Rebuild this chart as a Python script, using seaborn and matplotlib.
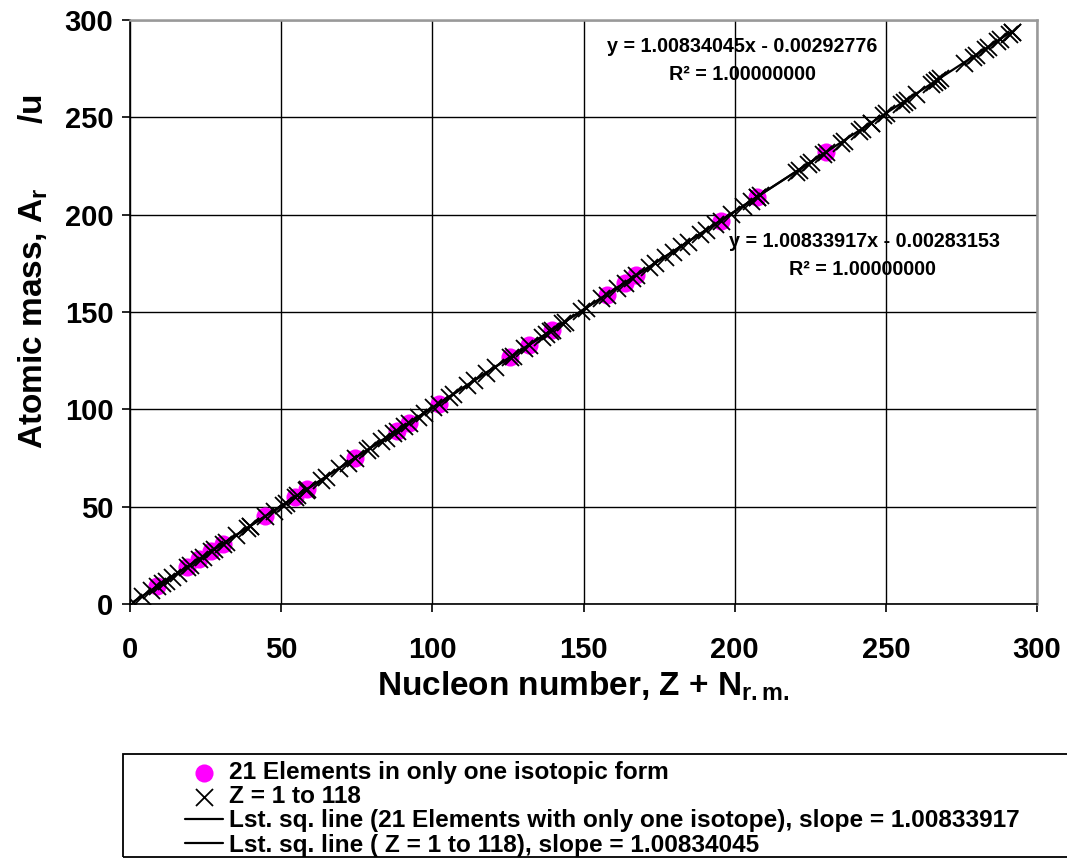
import seaborn as sns
import matplotlib.pyplot as plt
import matplotlib.patches as patches
import pandas as pd

# nucleon number (x) and atomic mass (y) for Z = 1 to 118
nucleon_all = [1.00, 3.97, 6.88, 8.94, 10.72, 11.91, 13.89, 15.87, 18.84, 20.01,
               22.80, 24.10, 26.76, 27.85, 30.72, 31.79, 35.16, 39.62, 38.77, 39.75,
               44.58, 47.47, 50.52, 51.57, 54.48, 55.38, 58.44, 58.21, 63.02, 64.84,
               69.15, 72.03, 74.30, 78.32, 79.24, 83.10, 84.76, 86.90, 88.17, 90.47,
               92.14, 95.16, 97.19, 100.23, 102.06, 105.54, 106.98, 111.48, 113.87, 117.73,
               120.75, 126.55, 125.85, 130.20, 131.81, 136.19, 137.76, 138.96, 139.74, 143.05,
               143.80, 149.11, 150.70, 155.95, 157.61, 161.16, 163.57, 165.88, 167.53, 171.62,
               173.52, 177.01, 179.45, 182.32, 184.67, 188.66, 190.63, 193.47, 195.34, 198.93,
               202.69, 205.49, 207.25, 207.27, 208.26, 220.16, 221.16, 224.13, 225.12, 230.12,
               229.13, 236.06, 235.04, 241.98, 240.99, 244.96, 244.96, 248.92, 249.92, 254.88,
               255.87, 256.86, 259.83, 264.79, 265.78, 266.78, 267.77, 266.78, 275.70, 278.68,
               279.67, 282.64, 283.64, 286.61, 287.60, 290.58, 291.57, 291.57]
mass_all = [1.008, 4.003, 6.94, 9.012, 10.81, 12.011, 14.007, 15.999, 18.998, 20.180,
            22.990, 24.305, 26.982, 28.085, 30.974, 32.06, 35.45, 39.95, 39.098, 40.078,
            44.956, 47.867, 50.942, 51.996, 54.938, 55.845, 58.933, 58.693, 63.546, 65.38,
            69.723, 72.630, 74.922, 78.971, 79.904, 83.798, 85.468, 87.62, 88.906, 91.224,
            92.906, 95.95, 98, 101.07, 102.91, 106.42, 107.87, 112.41, 114.82, 118.71,
            121.76, 127.60, 126.90, 131.29, 132.91, 137.33, 138.91, 140.12, 140.91, 144.24,
            145, 150.36, 151.96, 157.25, 158.93, 162.50, 164.93, 167.26, 168.93, 173.05,
            174.97, 178.49, 180.95, 183.84, 186.21, 190.23, 192.22, 195.08, 196.97, 200.59,
            204.38, 207.2, 208.98, 209, 210, 222, 223, 226, 227, 232.04,
            231.04, 238.03, 237, 244, 243, 247, 247, 251, 252, 257,
            258, 259, 262, 267, 268, 269, 270, 269, 278, 281,
            282, 285, 286, 289, 290, 293, 294, 294]

# 21 elements with only one isotope
nucleon_mono = [8.94, 18.84, 22.80, 26.76, 30.72, 44.58, 54.48, 58.44, 74.30, 88.17, 92.14,
                102.06, 125.85, 131.81, 139.74, 157.61, 163.57, 167.53, 195.34, 207.25, 230.12]
mass_mono = [9.012, 18.998, 22.990, 26.982, 30.974, 44.956, 54.938, 58.933, 74.922, 88.906, 92.906,
             102.91, 126.90, 132.91, 140.91, 158.93, 164.93, 168.93, 196.97, 208.98, 232.04]

# least squares fits (slope, intercept)
fit_all = (1.00834045, -0.00292776)
fit_mono = (1.00833917, -0.00283153)

sns.set_style("white")
plt.rcParams['font.family'] = ['Liberation Sans', 'DejaVu Sans']
plt.rcParams['font.weight'] = 'bold'
plt.rcParams['text.color'] = 'black'
plt.rcParams['axes.labelcolor'] = 'black'
plt.rcParams['xtick.color'] = 'black'
plt.rcParams['ytick.color'] = 'black'
plt.rcParams['mathtext.fontset'] = 'custom'
plt.rcParams['mathtext.rm'] = 'Liberation Sans:bold'
plt.rcParams['mathtext.it'] = 'Liberation Sans:bold'
plt.rcParams['mathtext.bf'] = 'Liberation Sans:bold'

df_all = pd.DataFrame({'x': nucleon_all, 'y': mass_all})
df_mono = pd.DataFrame({'x': nucleon_mono, 'y': mass_mono})

fig, ax = plt.subplots(figsize=(10.67, 8.6), dpi=100)
fig.subplots_adjust(left=130/1067, right=1037/1067, top=1-20/860, bottom=1-604/860)

sns.scatterplot(data=df_mono, x='x', y='y', ax=ax, color='#FF00FF', marker='o', s=170,
                linewidth=0, label='21 Elements in only one isotopic form', zorder=3)
sns.scatterplot(data=df_all, x='x', y='y', ax=ax, color='black', marker='x', s=150,
                linewidth=1.3, label='Z = 1 to 118', zorder=4)

xm = [min(nucleon_mono), max(nucleon_mono)]
ax.plot(xm, [fit_mono[0]*v + fit_mono[1] for v in xm], color='black', lw=1.6, zorder=5,
        label='Lst. sq. line (21 Elements with only one isotope), slope = 1.00833917')
xa = [min(nucleon_all), max(nucleon_all)]
ax.plot(xa, [fit_all[0]*v + fit_all[1] for v in xa], color='black', lw=1.6, zorder=5,
        label='Lst. sq. line ( Z = 1 to 118), slope = 1.00834045')

ax.set_xlim(0, 300)
ax.set_ylim(0, 300)
ax.set_xticks(range(0, 301, 50))
ax.set_yticks(range(0, 301, 50))
ax.grid(True, color='black', lw=1.0)
ax.set_axisbelow(True)
for s in ['top', 'right']:
    ax.spines[s].set_color('#999999')
    ax.spines[s].set_linewidth(1.8)
for s in ['left', 'bottom']:
    ax.spines[s].set_color('black')
    ax.spines[s].set_linewidth(1.2)
ax.tick_params(axis='both', direction='out', length=6, width=1.2, color='black',
               labelsize=21, labelcolor='black', bottom=True, left=True)
ax.tick_params(axis='x', pad=17)
ax.tick_params(axis='y', pad=6)
for lab in ax.get_xticklabels() + ax.get_yticklabels():
    lab.set_fontweight('bold')

ax.set_xlabel('Nucleon number, Z + N$_\\mathrm{r.m.}$', fontsize=24, fontweight='bold')
ax.set_ylabel('Atomic mass, A$_\\mathrm{r}$       /u', fontsize=24, fontweight='bold')
ax.xaxis.set_label_coords(0.5, -0.112)
ax.yaxis.set_label_coords(-0.0885, 0.57)

ax.text(202.4, 286.5, 'y = 1.00834045x - 0.00292776', ha='center', va='center',
        fontsize=14.2, fontweight='bold')
ax.text(202.6, 272.0, 'R² = 1.00000000', ha='center', va='center',
        fontsize=14.2, fontweight='bold')
ax.text(242.8, 186.0, 'y = 1.00833917x - 0.00283153', ha='center', va='center',
        fontsize=14.2, fontweight='bold')
ax.text(242.2, 171.6, 'R² = 1.00000000', ha='center', va='center',
        fontsize=14.2, fontweight='bold')

# legend box at the bottom, running off the right edge
box = patches.Rectangle((123/1067, 3/860), 960/1067, 103/860, transform=fig.transFigure,
                        fill=False, edgecolor='black', lw=1.3, clip_on=False)
fig.add_artist(box)
handles, labels = ax.get_legend_handles_labels()
if ax.get_legend():
    ax.get_legend().remove()
fig.legend(handles, labels, loc='upper left', bbox_to_anchor=(185/1067, 1-761/860),
           frameon=False, borderpad=0, borderaxespad=0,
           handlelength=1.55, handletextpad=0.25, labelspacing=0.05,
           prop={'weight': 'bold', 'size': 17.6})

fig.savefig('out.png', dpi=100)
